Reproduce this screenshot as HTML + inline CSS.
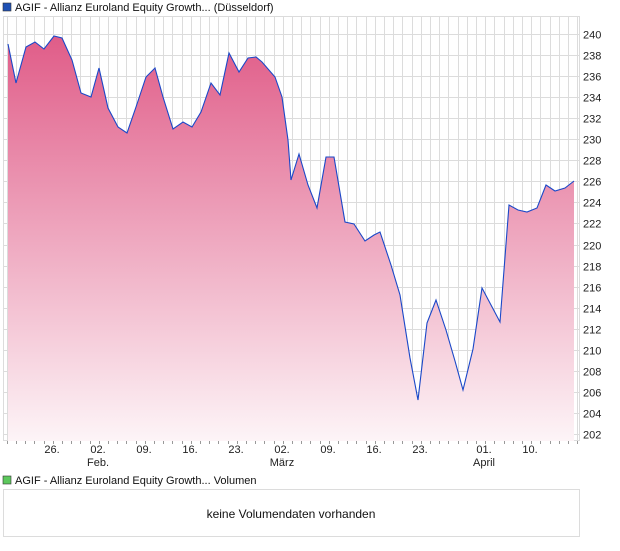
<!DOCTYPE html>
<html><head><meta charset="utf-8"><style>
body{margin:0;background:#fff;font-family:"Liberation Sans",sans-serif;}
</style></head><body>
<svg width="620" height="546" xmlns="http://www.w3.org/2000/svg" font-family="Liberation Sans, sans-serif">
<defs><linearGradient id="g" gradientUnits="userSpaceOnUse" x1="0" y1="36" x2="0" y2="441">
<stop offset="0" stop-color="#e05c88"/><stop offset="1" stop-color="#fdf4f7"/></linearGradient></defs>
<rect x="3" y="3" width="8" height="8" fill="#1e50b4" stroke="#333" stroke-width="0.6"/>
<text x="15" y="11" font-size="11" fill="#111">AGIF - Allianz Euroland Equity Growth... (Düsseldorf)</text>
<rect x="3.5" y="16.5" width="576" height="424" fill="#fff" stroke="#dcdcdc"/>
<g stroke="#dcdcdc" id="grid"></g>
<path id="area" fill="url(#g)"/>
<polyline id="line" fill="none" stroke="#1a48c8" stroke-width="1.1"/>
<g font-size="11" fill="#222" id="yl"></g>
<g font-size="11" fill="#222" text-anchor="middle">
<text x="52" y="453">26.</text><text x="98" y="453">02.</text><text x="144" y="453">09.</text><text x="190" y="453">16.</text><text x="236" y="453">23.</text><text x="282" y="453">02.</text><text x="328" y="453">09.</text><text x="374" y="453">16.</text><text x="420" y="453">23.</text><text x="484" y="453">01.</text><text x="530" y="453">10.</text>
<text x="98" y="466">Feb.</text><text x="282" y="466">März</text><text x="484" y="466">April</text>
</g>
<rect x="3" y="476" width="8" height="8" fill="#5cc85c" stroke="#333" stroke-width="0.6"/>
<text x="15" y="484" font-size="11" fill="#111">AGIF - Allianz Euroland Equity Growth... Volumen</text>
<rect x="3.5" y="489.5" width="576" height="47" fill="#fff" stroke="#dcdcdc"/>
<text x="291" y="518" font-size="12" fill="#111" text-anchor="middle">keine Volumendaten vorhanden</text>
</svg>
<script>
var ns="http://www.w3.org/2000/svg",gr=document.getElementById('grid'),yl=document.getElementById('yl');
function ln(x1,y1,x2,y2,c){var l=document.createElementNS(ns,'line');l.setAttribute('x1',x1);l.setAttribute('y1',y1);l.setAttribute('x2',x2);l.setAttribute('y2',y2);if(c)l.setAttribute('stroke',c);gr.appendChild(l);}
for(var x=6.8;x<579;x+=9.2){var xx=Math.round(x)+0.5;ln(xx,17,xx,441);ln(xx,441,xx,444,'#999');}
for(var v=202;v<=240;v+=2){var y=Math.round(34+(240-v)*10.526)+0.5;ln(4,y,579,y);var t=document.createElementNS(ns,'text');t.setAttribute('x',583);t.setAttribute('y',y+4);t.textContent=v;yl.appendChild(t);}
var p=[[8,44],[16,83],[26,47],[35,42],[44,49],[54,36],[62,38],[72,60],[81,93],[91,97],[99,68],[108,108],[118,127],[127,133],[136,107],[146,77],[155,68],[163,97],[173,129],[183,122],[192,127],[201,112],[211,83],[220,95],[229,53],[239,72],[248,58],[256,57],[262,62],[275,77],[282,97],[288,140],[291,180],[299,154],[308,185],[317,208],[326,157],[334,157],[345,222],[354,224],[365,241],[374,235],[380,232],[391,265],[400,295],[410,358],[418,400],[427,323],[436,300],[446,330],[455,361],[463,390],[473,349],[482,288],[500,322],[509,205],[518,210],[527,212],[537,208],[546,185],[555,191],[565,188],[574,181]];
var s=p.map(function(a){return a.join(',')}).join(' ');
document.getElementById('line').setAttribute('points',s);
document.getElementById('area').setAttribute('d','M8,441 L'+s.split(' ').join(' L')+' L574,441 Z');
</script>
</body></html>
